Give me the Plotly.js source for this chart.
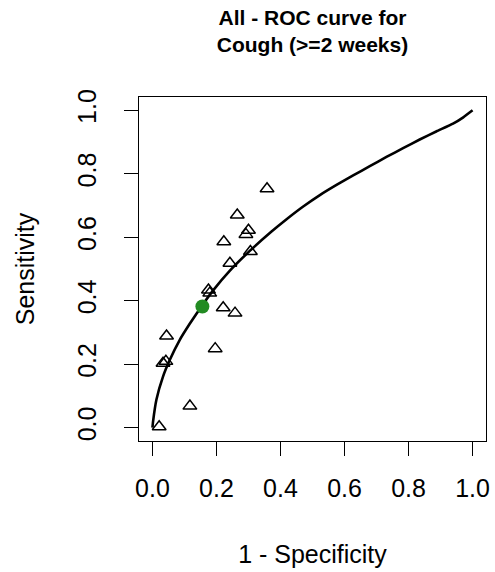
<!DOCTYPE html>
<html>
<head>
<meta charset="utf-8">
<script src="https://cdn.plot.ly/plotly-3.0.1.min.js"></script>
<style>html,body{margin:0;padding:0;background:#fff;}#chart{width:495px;height:572px;}</style>
</head>
<body>
<div id="chart"></div>
<script>
// Study points (1 - specificity, sensitivity)
var studyFPR  = [0.358, 0.265, 0.300, 0.292, 0.223, 0.306, 0.242, 0.175, 0.179, 0.221, 0.258, 0.044, 0.196, 0.042, 0.033, 0.117, 0.021];
var studySens = [0.753, 0.670, 0.622, 0.609, 0.586, 0.555, 0.518, 0.434, 0.424, 0.378, 0.361, 0.289, 0.249, 0.209, 0.203, 0.068, 0.003];

// Summary point
var summaryFPR  = [0.156];
var summarySens = [0.382];

// ROC curve
var curveFPR  = [0.000, 0.002, 0.0125, 0.033, 0.054, 0.085, 0.117, 0.153, 0.189, 0.242, 0.304, 0.372, 0.419, 0.471, 0.523, 0.575, 0.627, 0.679, 0.731, 0.783, 0.835, 0.888, 0.939, 0.971, 1.000];
var curveSens = [0.000, 0.020, 0.089, 0.161, 0.213, 0.276, 0.328, 0.382, 0.432, 0.495, 0.557, 0.618, 0.657, 0.697, 0.733, 0.765, 0.795, 0.824, 0.853, 0.881, 0.908, 0.934, 0.958, 0.978, 1.000];

var tickVals = [0, 0.2, 0.4, 0.6, 0.8, 1.0];
var tickText = ["0.0", "0.2", "0.4", "0.6", "0.8", "1.0"];

var font = "Liberation Sans, Arial, sans-serif";

var traces = [
  {x: curveFPR, y: curveSens, type: "scatter", mode: "lines",
   line: {color: "black", width: 2.6, shape: "spline", smoothing: 0.4}, hoverinfo: "skip"},
  {x: studyFPR, y: studySens, type: "scatter", mode: "markers",
   marker: {symbol: "triangle-up-open", size: 12, color: "black", line: {color: "black", width: 1.5}}},
  {x: summaryFPR, y: summarySens, type: "scatter", mode: "markers",
   marker: {symbol: "circle", size: 14, color: "#228B22"}}
];

var axisCommon = {
  range: [-0.042, 1.042],
  showgrid: false, zeroline: false,
  showline: true, mirror: true, linecolor: "black", linewidth: 1,
  ticks: "outside", ticklen: 14, tickwidth: 1, tickcolor: "black",
  tickvals: tickVals, ticktext: tickText,
  tickfont: {family: font, size: 25, color: "black"}
};

var layout = {
  width: 495, height: 572,
  margin: {l: 139, r: 9, t: 97, b: 131},
  paper_bgcolor: "white", plot_bgcolor: "white",
  showlegend: false,
  title: {
    text: "All - ROC curve for<br>Cough (>=2 weeks)",
    font: {family: font, size: 21, color: "black", weight: "bold"},
    x: 0.5, xref: "paper", xanchor: "center",
    y: 1 - 25 / 572, yref: "container", yanchor: "bottom"
  },
  xaxis: Object.assign({}, axisCommon, {
    ticklabelstandoff: 11,
    title: {text: "1 - Specificity", font: {family: font, size: 25, color: "black"}, standoff: 44}
  }),
  yaxis: Object.assign({}, axisCommon, {
    tickangle: -90,
    ticklabelstandoff: 18,
    title: {text: "Sensitivity", font: {family: font, size: 25, color: "black"}, standoff: 31}
  })
};

Plotly.newPlot("chart", traces, layout, {displayModeBar: false, staticPlot: true});
</script>
</body>
</html>
